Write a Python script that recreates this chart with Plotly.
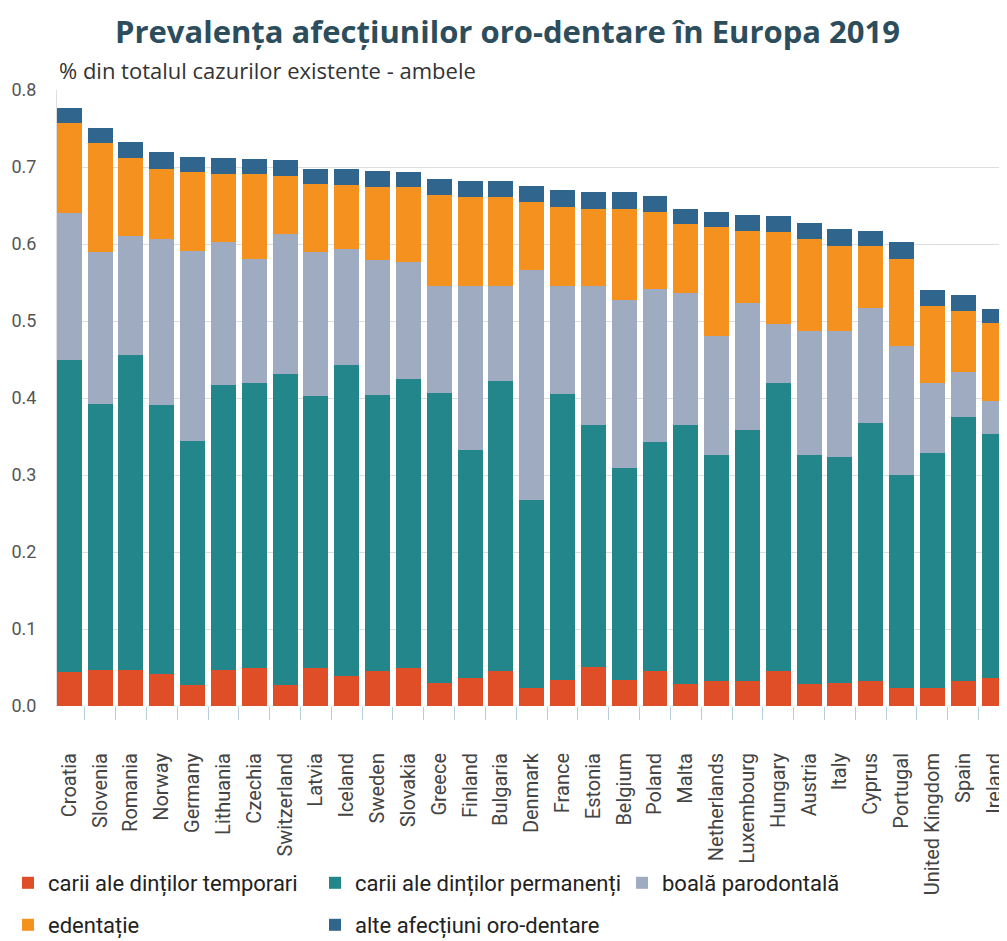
import plotly.graph_objects as go

countries = ["Croatia", "Slovenia", "Romania", "Norway", "Germany", "Lithuania", "Czechia",
             "Switzerland", "Latvia", "Iceland", "Sweden", "Slovakia", "Greece", "Finland",
             "Bulgaria", "Denmark", "France", "Estonia", "Belgium", "Poland", "Malta",
             "Netherlands", "Luxembourg", "Hungary", "Austria", "Italy", "Cyprus", "Portugal",
             "United Kingdom", "Spain", "Ireland"]

# cumulative tops, per layer
top_temp = [0.044, 0.047, 0.047, 0.042, 0.027, 0.047, 0.050, 0.027, 0.050, 0.039, 0.045,
            0.049, 0.030, 0.036, 0.045, 0.023, 0.034, 0.051, 0.034, 0.045, 0.029, 0.033,
            0.032, 0.045, 0.029, 0.030, 0.032, 0.024, 0.023, 0.032, 0.036]
top_perm = [0.449, 0.392, 0.456, 0.391, 0.344, 0.417, 0.420, 0.431, 0.402, 0.443, 0.404,
            0.425, 0.406, 0.333, 0.422, 0.268, 0.405, 0.365, 0.309, 0.343, 0.365, 0.326,
            0.358, 0.420, 0.326, 0.324, 0.367, 0.300, 0.328, 0.375, 0.353]
top_paro = [0.640, 0.590, 0.610, 0.607, 0.591, 0.603, 0.581, 0.613, 0.589, 0.594, 0.579,
            0.577, 0.545, 0.545, 0.545, 0.566, 0.545, 0.545, 0.527, 0.541, 0.536, 0.481,
            0.524, 0.496, 0.487, 0.487, 0.517, 0.468, 0.420, 0.434, 0.396]
top_eden = [0.757, 0.731, 0.712, 0.698, 0.694, 0.691, 0.691, 0.688, 0.678, 0.677, 0.674,
            0.674, 0.664, 0.661, 0.661, 0.655, 0.648, 0.646, 0.646, 0.641, 0.626, 0.622,
            0.617, 0.616, 0.607, 0.598, 0.597, 0.581, 0.520, 0.513, 0.497]
top_alte = [0.777, 0.751, 0.732, 0.719, 0.713, 0.712, 0.711, 0.709, 0.698, 0.697, 0.695,
            0.694, 0.684, 0.682, 0.682, 0.675, 0.670, 0.667, 0.667, 0.662, 0.646, 0.642,
            0.638, 0.637, 0.627, 0.619, 0.617, 0.602, 0.540, 0.534, 0.516]

# (legend name, lower cumulative, upper cumulative, colour, legend row)
layers = [
    ("carii ale dinților temporari", None, top_temp, "#e04e27", "legend"),
    ("carii ale dinților permanenți", top_temp, top_perm, "#22868a", "legend"),
    ("boală parodontală", top_perm, top_paro, "#9eabc1", "legend"),
    ("edentație", top_paro, top_eden, "#f5921f", "legend2"),
    ("alte afecțiuni oro-dentare", top_eden, top_alte, "#30658d", "legend2"),
]

fig = go.Figure()
for name, lower, upper, color, leg in layers:
    if lower is None:
        vals = upper
    else:
        vals = [round(u - l, 4) for u, l in zip(upper, lower)]
    fig.add_trace(go.Bar(x=countries, y=vals, name=name, marker_color=color,
                         marker_line_width=0, legend=leg))

# the page body adds an 8px margin, so the figure is 8px smaller than the window
W, H = 999, 933

legend_font = dict(family="Roboto", size=22, color="#222")
legend_common = dict(orientation="h", xref="container", yref="container", x=0,
                     xanchor="left", yanchor="middle", entrywidth=262,
                     traceorder="normal", bgcolor="rgba(0,0,0,0)", font=legend_font)

fig.update_layout(
    barmode="stack",
    bargap=0.19,
    width=W, height=H,
    margin=dict(l=49, r=0, t=82, b=235),
    paper_bgcolor="white", plot_bgcolor="white",
    title=dict(text="<b>Prevalența afecțiunilor oro-dentare în Europa 2019</b>",
               x=0.5, xanchor="center", y=1 - 24 / H, yanchor="middle",
               font=dict(family="Open Sans", size=31, color="#2c4d5c")),
    legend=dict(y=1 - 875 / H, **legend_common),
    legend2=dict(y=1 - 917 / H, **legend_common),
)
fig.add_annotation(text="% din totalul cazurilor existente - ambele",
                   xref="paper", yref="paper", x=0.0, y=1.0, xanchor="left", yanchor="middle",
                   yshift=20, showarrow=False,
                   font=dict(family="Open Sans", size=22, color="#333"))

fig.update_xaxes(range=[-0.4, 30.42], ticks="outside", tickson="boundaries", ticklen=13,
                 tickcolor="#b8cdd8", tickangle=-90, ticklabelstandoff=42, automargin=False,
                 tickfont=dict(family="Roboto", size=20, color="#444"),
                 showline=False, showgrid=False)
fig.update_yaxes(range=[0, 0.8], dtick=0.1, tickformat=".1f", showgrid=True,
                 gridcolor="#dedede", gridwidth=1, showline=True, linecolor="#dedede",
                 zeroline=False, ticklabelstandoff=16, automargin=False,
                 tickfont=dict(family="Roboto", size=18, color="#555"))

fig.write_html("out.html")
